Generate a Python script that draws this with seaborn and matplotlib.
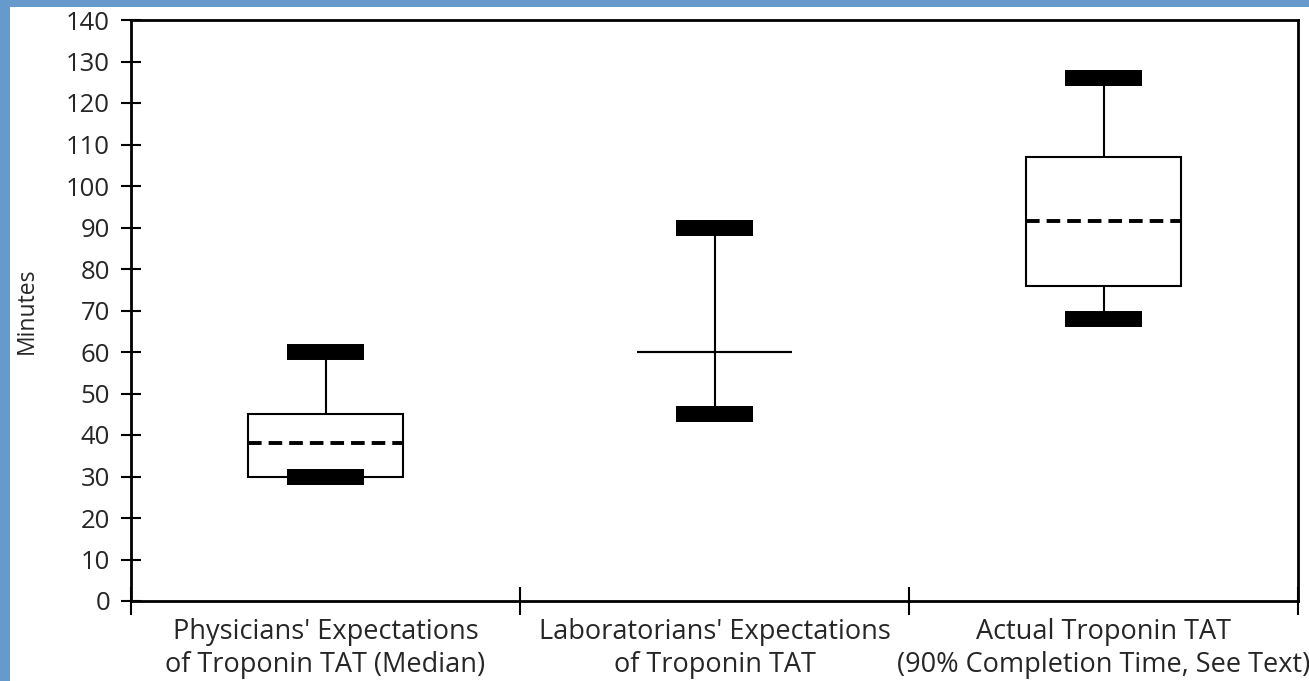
import pandas as pd
import numpy as np
import matplotlib.pyplot as plt
import matplotlib.patches as mpatches
import seaborn as sns

# ======================
# DATA (five-number summaries: min, Q1, median, Q3, max)
# ======================
categories = [
    "Physicians' Expectations\nof Troponin TAT (Median)",
    "Laboratorians' Expectations\nof Troponin TAT",
    "Actual Troponin TAT\n(90% Completion Time, See Text)",
]
physicians = [30, 30, 38, 45, 60]
laboratorians = [45, 60, 60, 60, 90]
actual = [68, 76, 91.5, 107, 126]
y_ticks = list(range(0, 141, 10))

df = pd.DataFrame({
    "group": np.repeat(categories, 5),
    "minutes": physicians + laboratorians + actual,
})

# ======================
# STYLE
# ======================
sns.set_theme(style="white")
plt.rcParams["font.family"] = ["Open Sans", "DejaVu Sans"]
text_color = "#262626"
blue = "#6699cc"

fig = plt.figure(figsize=(13.09, 6.81), dpi=100, facecolor=blue)
# white panel inside the blue frame (left and top strips stay blue)
fig.patches.append(mpatches.Rectangle((10 / 1309, 0), 1, 1 - 7 / 681,
                                      transform=fig.transFigure,
                                      facecolor="white", edgecolor="none", zorder=-10))
ax = fig.add_axes([131 / 1309, 1 - 601 / 681, (1298 - 131) / 1309, (601 - 20) / 681])
ax.set_facecolor("white")

sns.boxplot(
    data=df, x="group", y="minutes", order=categories, ax=ax,
    whis=(0, 100), width=0.4, color="white", linecolor="black",
    boxprops={"linewidth": 1.5},
    whiskerprops={"linewidth": 1.5},
    capprops={"linewidth": 11.5, "solid_capstyle": "butt"},
    medianprops={"linewidth": 2.8, "linestyle": (0, (3.5, 1.8)), "solid_capstyle": "butt"},
    showfliers=False,
)

# the laboratorians' group has only a single value line -> solid, thin
boxes = ax.containers[0]
boxes.medians[1].set_linestyle("-")
boxes.medians[1].set_linewidth(1.5)

# ======================
# AXES
# ======================
ax.set_xlim(-0.5, 2.5)
ax.set_ylim(0, 140)
ax.set_yticks(y_ticks)
ax.set_yticklabels([str(t) for t in y_ticks])
ax.set_xticks([0, 1, 2])
ax.set_xticklabels(categories, linespacing=1.25)
ax.set_xticks([-0.5, 0.5, 1.5, 2.5], minor=True)

ax.tick_params(axis="y", direction="inout", length=14, width=1.5, color="black",
               labelsize=18.5, labelcolor=text_color, pad=8, left=True)
ax.tick_params(axis="x", which="major", length=0, labelsize=19.5,
               labelcolor=text_color, pad=12)
ax.tick_params(axis="x", which="minor", direction="inout", length=20, width=1.5,
               color="black", bottom=True)

for side in ["left", "right", "top", "bottom"]:
    ax.spines[side].set_visible(True)
    ax.spines[side].set_color("black")
    ax.spines[side].set_linewidth(2)

ax.set_xlabel("")
ax.set_ylabel("Minutes", fontsize=16.5, color=text_color, labelpad=20)

fig.savefig("out.png", dpi=100, facecolor=fig.get_facecolor())
